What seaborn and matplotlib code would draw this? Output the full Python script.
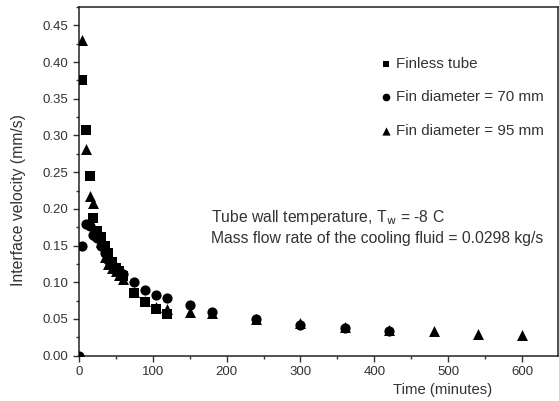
import numpy as np
import pandas as pd
import matplotlib
matplotlib.use("Agg")
import matplotlib.pyplot as plt
import seaborn as sns
from matplotlib.ticker import MultipleLocator

# Data
finless_t = [5, 10, 15, 20, 25, 30, 35, 40, 45, 50, 55, 60, 75, 90, 105, 120]
finless_v = [0.376, 0.307, 0.245, 0.188, 0.170, 0.162, 0.150, 0.140, 0.128, 0.120,
             0.115, 0.108, 0.085, 0.073, 0.063, 0.057]

fin70_t = [0, 5, 10, 15, 20, 25, 30, 35, 40, 45, 50, 55, 60, 75, 90, 105, 120,
           150, 180, 240, 300, 360, 420]
fin70_v = [0.0, 0.150, 0.180, 0.177, 0.165, 0.160, 0.150, 0.140, 0.130, 0.125,
           0.120, 0.116, 0.111, 0.100, 0.090, 0.083, 0.078, 0.069, 0.060, 0.050,
           0.042, 0.038, 0.034]

fin95_t = [5, 10, 15, 20, 25, 30, 35, 40, 45, 50, 55, 60, 75, 90, 105, 120,
           150, 180, 240, 300, 360, 420, 480, 540, 600]
fin95_v = [0.430, 0.281, 0.218, 0.208, 0.165, 0.155, 0.135, 0.125, 0.120, 0.115,
           0.110, 0.105, 0.087, 0.074, 0.066, 0.064, 0.060, 0.058, 0.050, 0.044,
           0.039, 0.035, 0.034, 0.030, 0.028]

labels = ["Finless tube", "Fin diameter = 70 mm", "Fin diameter = 95 mm"]

df = pd.concat([
    pd.DataFrame({"t": finless_t, "v": finless_v, "series": labels[0]}),
    pd.DataFrame({"t": fin70_t, "v": fin70_v, "series": labels[1]}),
    pd.DataFrame({"t": fin95_t, "v": fin95_v, "series": labels[2]}),
])

sns.set_style("ticks")
plt.rcParams["font.family"] = ["Liberation Sans", "DejaVu Sans"]

fig = plt.figure(figsize=(5.59, 4.01), dpi=100)
ax = fig.add_axes([0.1408, 0.113, 0.857, 0.8695])

markers = {labels[0]: "s", labels[1]: "o", labels[2]: "^"}
sizes = {labels[0]: 44, labels[1]: 54, labels[2]: 62}
for lab in labels:
    sub = df[df["series"] == lab]
    sns.scatterplot(data=sub, x="t", y="v", marker=markers[lab], s=sizes[lab],
                    color="black", edgecolor="black", linewidth=0, ax=ax,
                    label=lab, clip_on=True, zorder=3)

ax.set_xlim(0, 648)
ax.set_ylim(0, 0.475)
ax.xaxis.set_major_locator(MultipleLocator(100))
ax.xaxis.set_minor_locator(MultipleLocator(50))
ax.yaxis.set_major_locator(MultipleLocator(0.05))
ax.yaxis.set_minor_locator(MultipleLocator(0.025))
ax.yaxis.set_major_formatter(matplotlib.ticker.FormatStrFormatter("%.2f"))
ax.tick_params(axis="both", which="major", direction="out", length=4, width=1,
               labelsize=9.5, colors="#333333", labelcolor="#333333")
ax.tick_params(axis="both", which="minor", direction="out", length=2.5, width=1,
               colors="#333333")
ax.tick_params(axis="x", top=False)
ax.tick_params(axis="y", right=False)
for sp in ax.spines.values():
    sp.set_visible(True)
    sp.set_linewidth(1.1)
    sp.set_color("#222222")

ax.set_xlabel("Time (minutes)", fontsize=10.7, color="#333333")
ax.set_ylabel("Interface velocity (mm/s)", fontsize=11.3, color="#333333")
ax.xaxis.set_label_coords(0.76, -0.077)
ax.yaxis.set_label_coords(-0.11, 0.447)

leg = ax.legend(loc="upper left", bbox_to_anchor=(0.612, 0.875), frameon=False,
                fontsize=10.9, labelspacing=1.3, handletextpad=0.17,
                handlelength=1.0, borderaxespad=0, borderpad=0.4,
                markerscale=0.75)
for txt in leg.get_texts():
    txt.set_color("#333333")

ax.text(0.276, 0.425, "Tube wall temperature, T$_{\\mathrm{w}}$ = -8 C\nMass flow rate of the cooling fluid = 0.0298 kg/s",
        transform=ax.transAxes, fontsize=11.35, color="#333333", va="top",
        ha="left", linespacing=1.37)

fig.savefig("out.png", dpi=100)
